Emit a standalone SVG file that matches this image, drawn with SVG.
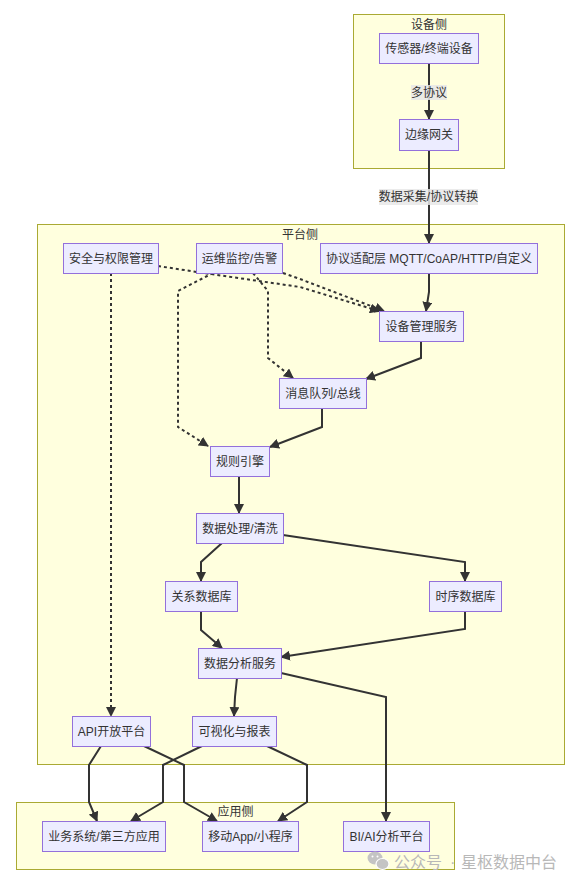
<svg xmlns="http://www.w3.org/2000/svg" width="579" height="884" viewBox="0 0 579 884">
  <defs>
    <style>
      text { font-family: "Liberation Sans", "Noto Sans CJK SC", sans-serif; font-size: 12px; fill: #333333; }
      .cluster rect { fill: #ffffde; stroke: #aaaa33; stroke-width: 1; }
      .node rect { fill: #ececff; stroke: #9370db; stroke-width: 1; }
      .node text, .cluster text, .elabel text { text-anchor: middle; dominant-baseline: central; }
      .edge { fill: none; stroke: #333333; stroke-width: 2; marker-end: url(#arrow); }
      .dashed { stroke-dasharray: 3 3; }
      .elabel rect { fill: #e8e8e8; fill-opacity: 0.85; }
      .wm { font-size: 16px; fill: #b8b8b8; }
    </style>
    <marker id="arrow" viewBox="0 0 10 10" refX="9" refY="5" markerWidth="10" markerHeight="10" markerUnits="userSpaceOnUse" orient="auto">
      <path d="M0,0 L10,5 L0,10 z" fill="#333333"/>
    </marker>
  </defs>

  <rect width="579" height="884" fill="#ffffff"/>

  <!-- subgraphs -->
  <g id="cluster-device" class="cluster">
    <rect x="353.5" y="14.5" width="151" height="154"/>
    <text x="429" y="25">设备侧</text>
  </g>
  <g id="cluster-platform" class="cluster">
    <rect x="37.5" y="224.5" width="527" height="540"/>
    <text x="300" y="235">平台侧</text>
  </g>
  <g id="cluster-app" class="cluster">
    <rect x="16.5" y="802.5" width="438" height="67"/>
    <text x="235.5" y="812">应用侧</text>
  </g>

  <!-- connectors -->
  <g id="edges">
    <path class="edge" d="M429,63 L429,119"/>
    <path class="edge" d="M429,150 L429,243"/>
    <path class="edge" d="M429,273 L429,292 L426,311"/>
    <path class="edge dashed" d="M158,266 L197,272 L300,287 L379,311"/>
    <path class="edge dashed" d="M283,273 L300,279 L384,311"/>
    <path class="edge dashed" d="M253,273 L268,291 L268,358 L293,378"/>
    <path class="edge dashed" d="M213,273 L178,291 L178,427 L208,446"/>
    <path class="edge dashed" d="M111,273 L111,716"/>
    <path class="edge" d="M421,341 L421,358 L366,379"/>
    <path class="edge" d="M322,408 L322,427 L270,447"/>
    <path class="edge" d="M239,476 L239,513"/>
    <path class="edge" d="M222,543 L201,562 L201,581"/>
    <path class="edge" d="M283,535 L465,562 L465,581"/>
    <path class="edge" d="M201,611 L201,630 L222,648"/>
    <path class="edge" d="M465,611 L465,629 L281,657"/>
    <path class="edge" d="M237,678 L235,697 L234,716"/>
    <path class="edge" d="M281,673 L386,697 L386,821"/>
    <path class="edge" d="M101,746 L89,765 L89,802 L97,821"/>
    <path class="edge" d="M144,746 L184,765 L184,802 L217,821"/>
    <path class="edge" d="M202,746 L163,765 L163,802 L131,821"/>
    <path class="edge" d="M267,746 L307,765 L307,802 L278,821"/>
  </g>

  <!-- connector labels -->
  <g id="edge-labels" class="elabel">
    <g>
      <rect x="411" y="85" width="36" height="15"/>
      <text x="429" y="92.5">多协议</text>
    </g>
    <g>
      <rect x="379" y="189" width="99" height="16"/>
      <text x="428.5" y="197">数据采集/协议转换</text>
    </g>
  </g>

  <!-- device side -->
  <g id="sensor" class="node">
    <rect x="379.5" y="33.5" width="99" height="30"/>
    <text x="429" y="48.5">传感器/终端设备</text>
  </g>
  <g id="gateway" class="node">
    <rect x="399.5" y="119.5" width="59" height="31"/>
    <text x="429" y="135">边缘网关</text>
  </g>

  <!-- platform side -->
  <g id="security" class="node">
    <rect x="63.5" y="243.5" width="95" height="30"/>
    <text x="111" y="258.5">安全与权限管理</text>
  </g>
  <g id="ops" class="node">
    <rect x="196.5" y="243.5" width="86" height="30"/>
    <text x="239.5" y="258.5">运维监控/告警</text>
  </g>
  <g id="protocol" class="node">
    <rect x="320.5" y="243.5" width="217" height="30"/>
    <text x="429" y="258.5">协议适配层 MQTT/CoAP/HTTP/自定义</text>
  </g>
  <g id="device-mgmt" class="node">
    <rect x="379.5" y="311.5" width="84" height="30"/>
    <text x="421.5" y="326.5">设备管理服务</text>
  </g>
  <g id="mq" class="node">
    <rect x="279.5" y="378.5" width="87" height="30"/>
    <text x="323" y="393.5">消息队列/总线</text>
  </g>
  <g id="rules" class="node">
    <rect x="210.5" y="446.5" width="59" height="30"/>
    <text x="240" y="461.5">规则引擎</text>
  </g>
  <g id="processing" class="node">
    <rect x="196.5" y="513.5" width="87" height="30"/>
    <text x="240" y="528.5">数据处理/清洗</text>
  </g>
  <g id="rdb" class="node">
    <rect x="165.5" y="581.5" width="72" height="30"/>
    <text x="201.5" y="596.5">关系数据库</text>
  </g>
  <g id="tsdb" class="node">
    <rect x="429.5" y="581.5" width="72" height="30"/>
    <text x="465.5" y="596.5">时序数据库</text>
  </g>
  <g id="analytics" class="node">
    <rect x="198.5" y="648.5" width="83" height="30"/>
    <text x="240" y="663.5">数据分析服务</text>
  </g>
  <g id="api" class="node">
    <rect x="72.5" y="716.5" width="78" height="30"/>
    <text x="111.5" y="731.5">API开放平台</text>
  </g>
  <g id="viz" class="node">
    <rect x="192.5" y="716.5" width="84" height="30"/>
    <text x="234.5" y="731.5">可视化与报表</text>
  </g>

  <!-- application side -->
  <g id="biz" class="node">
    <rect x="42.5" y="821.5" width="123" height="30"/>
    <text x="104" y="836.5">业务系统/第三方应用</text>
  </g>
  <g id="mobile" class="node">
    <rect x="202.5" y="821.5" width="96" height="30"/>
    <text x="250.5" y="836.5">移动App/小程序</text>
  </g>
  <g id="bi" class="node">
    <rect x="343.5" y="821.5" width="86" height="30"/>
    <text x="386.5" y="836.5">BI/AI分析平台</text>
  </g>

  <!-- account mark -->
  <g id="mark">
    <ellipse cx="375" cy="858" rx="7.5" ry="6.5" fill="#c4c4c4"/>
    <ellipse cx="382.5" cy="864" rx="6.5" ry="5.5" fill="#c4c4c4" stroke="#ffffff" stroke-width="1.2"/>
    <circle cx="372.5" cy="856.5" r="1" fill="#ffffff"/>
    <circle cx="377.5" cy="856.5" r="1" fill="#ffffff"/>
    <text class="wm" y="867.5"><tspan x="394">公众号</tspan><tspan x="450">·</tspan><tspan x="461">星枢数据中台</tspan></text>
  </g>
</svg>
